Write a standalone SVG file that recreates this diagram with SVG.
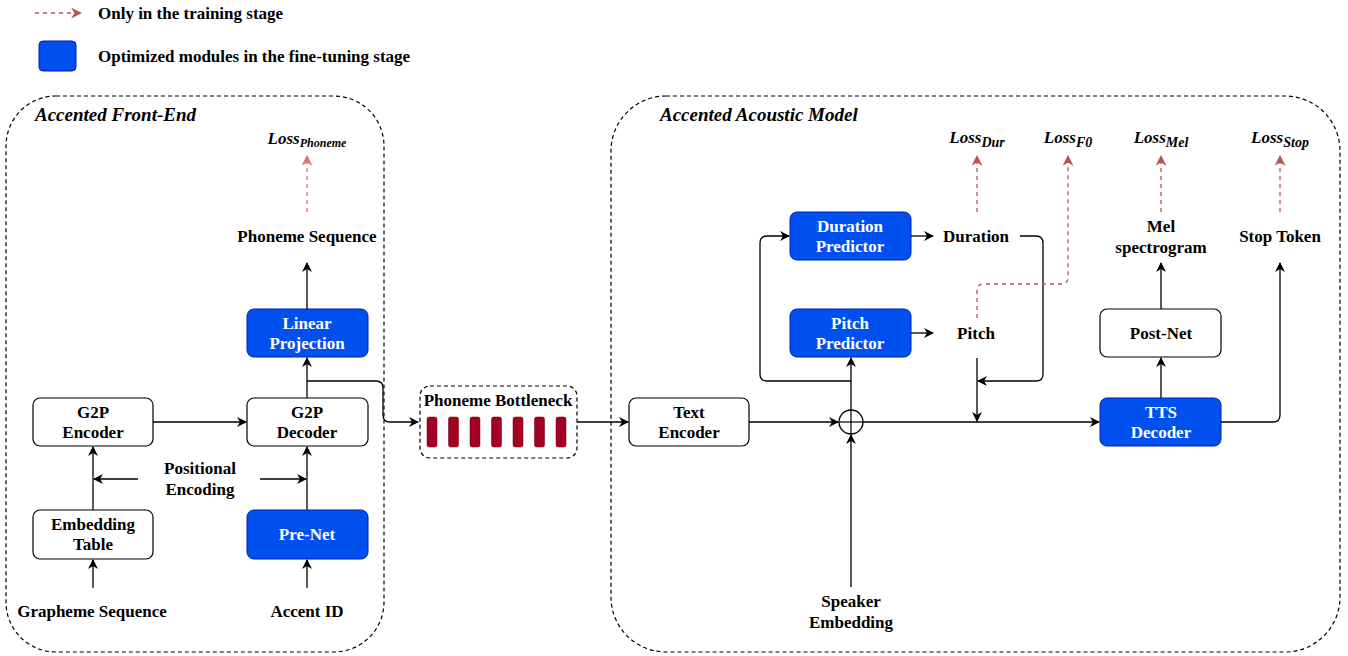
<svg xmlns="http://www.w3.org/2000/svg" width="1348" height="656" viewBox="0 0 1348 656">
<style>
text{font-weight:bold;fill:#000;text-anchor:middle;dominant-baseline:central}
.t15{font-size:17px}
.wt{fill:#fff}
.it{font-style:italic}
.box{fill:#fff;stroke:#000;stroke-width:1.2}
.blue{fill:#0050ef;stroke:#001dbc;stroke-width:1}
.cont{fill:none;stroke:#000;stroke-width:1.2;stroke-dasharray:4 3}
.ln{fill:none;stroke:#000;stroke-width:1.3}
.red{fill:none;stroke:#b85450;stroke-width:1.3;stroke-dasharray:4 4}
.red2{fill:none;stroke:#ea6b66;stroke-width:1.3;stroke-dasharray:4 4}
.bar{fill:#a20025;stroke:#6f0000;stroke-width:0.5}
</style>
<defs>
<marker id="ah" viewBox="0 0 10 10" refX="9" refY="5" markerWidth="10" markerHeight="10" markerUnits="userSpaceOnUse" orient="auto">
<path d="M0,0 L10,5 L0,10 L3,5 Z" fill="#000"/>
</marker>
<marker id="ahr" viewBox="0 0 10 10" refX="9" refY="5" markerWidth="11" markerHeight="11" markerUnits="userSpaceOnUse" orient="auto">
<path d="M0,0 L10,5 L0,10 L3,5 Z" fill="#b85450"/>
</marker>
<marker id="ahr2" viewBox="0 0 10 10" refX="9" refY="5" markerWidth="11" markerHeight="11" markerUnits="userSpaceOnUse" orient="auto">
<path d="M0,0 L10,5 L0,10 L3,5 Z" fill="#ea6b66"/>
</marker>
</defs>
<g font-family="'Liberation Serif', 'DejaVu Serif', serif">
<g id="legend">
<line x1="35" y1="13" x2="81" y2="13" class="red" marker-end="url(#ahr)"/>
<text x="98" y="13" class="t15" style="text-anchor:start">Only in the training stage</text>
<rect x="39" y="41" width="37" height="30" rx="4" class="blue"/>
<text x="98" y="56" class="t15" style="text-anchor:start">Optimized modules in the fine-tuning stage</text>
</g>

<g id="frontend">
<rect x="6" y="96" width="378" height="556" rx="50" class="cont"/>
<text x="35" y="114" class="it" style="font-size:19px;text-anchor:start">Accented Front-End</text>
</g>
<g id="acoustic">
<rect x="611" y="96" width="729" height="556" rx="55" class="cont"/>
<text x="660" y="114" class="it" style="font-size:19px;text-anchor:start">Accented Acoustic Model</text>
</g>

<g id="loss-phoneme"><text x="307" y="138" class="it" style="font-size:17px">Loss<tspan dy="5" style="font-size:12px">Phoneme</tspan></text></g>
<g id="loss-dur"><text x="977" y="137" class="it" style="font-size:17px">Loss<tspan dy="5" style="font-size:14px">Dur</tspan></text></g>
<g id="loss-f0"><text x="1068" y="137" class="it" style="font-size:17px">Loss<tspan dy="5" style="font-size:14px">F0</tspan></text></g>
<g id="loss-mel"><text x="1161" y="137" class="it" style="font-size:17px">Loss<tspan dy="5" style="font-size:14px">Mel</tspan></text></g>
<g id="loss-stop"><text x="1280" y="137" class="it" style="font-size:17px">Loss<tspan dy="5" style="font-size:14px">Stop</tspan></text></g>

<g id="phoneme-seq"><text x="307" y="236" class="t15">Phoneme Sequence</text></g>
<g id="linear-proj"><rect x="247" y="309" width="121" height="48" rx="7" class="blue"/><text x="307" y="323" class="t15 wt">Linear</text><text x="307" y="343" class="t15 wt">Projection</text></g>
<g id="g2p-encoder"><rect x="33" y="398" width="120" height="48" rx="7" class="box"/><text x="93" y="412" class="t15">G2P</text><text x="93" y="432" class="t15">Encoder</text></g>
<g id="g2p-decoder"><rect x="247" y="398" width="121" height="48" rx="7" class="box"/><text x="307" y="412" class="t15">G2P</text><text x="307" y="432" class="t15">Decoder</text></g>
<g id="pos-enc"><text x="200" y="468" class="t15">Positional</text><text x="200" y="489" class="t15">Encoding</text></g>
<g id="embedding"><rect x="33" y="510" width="120" height="49" rx="7" class="box"/><text x="93" y="524" class="t15">Embedding</text><text x="93" y="544" class="t15">Table</text></g>
<g id="prenet"><rect x="247" y="510" width="121" height="49" rx="7" class="blue"/><text x="307" y="534" class="t15 wt">Pre-Net</text></g>
<g id="grapheme"><text x="92" y="611" class="t15">Grapheme Sequence</text></g>
<g id="accent-id"><text x="307" y="611" class="t15">Accent ID</text></g>

<g id="bottleneck">
<rect x="420" y="386" width="157" height="72" rx="10" class="cont"/>
<text x="498" y="400" class="t15">Phoneme Bottleneck</text>
<rect x="427" y="417" width="10" height="30" rx="2" class="bar"/>
<rect x="448.5" y="417" width="10" height="30" rx="2" class="bar"/>
<rect x="470" y="417" width="10" height="30" rx="2" class="bar"/>
<rect x="491.5" y="417" width="10" height="30" rx="2" class="bar"/>
<rect x="513" y="417" width="10" height="30" rx="2" class="bar"/>
<rect x="534.5" y="417" width="10" height="30" rx="2" class="bar"/>
<rect x="556" y="417" width="10" height="30" rx="2" class="bar"/>
</g>

<g id="text-encoder"><rect x="629" y="398" width="120" height="48" rx="7" class="box"/><text x="689" y="412" class="t15">Text</text><text x="689" y="432" class="t15">Encoder</text></g>
<g id="adder"><circle cx="851" cy="422" r="12" fill="#fff" stroke="#000" stroke-width="1.3"/><line x1="839" y1="422" x2="863" y2="422" stroke="#000" stroke-width="1.2"/><line x1="851" y1="410" x2="851" y2="434" stroke="#000" stroke-width="1.2"/></g>
<g id="duration-pred"><rect x="790" y="212" width="121" height="48" rx="7" class="blue"/><text x="850" y="226" class="t15 wt">Duration</text><text x="850" y="246" class="t15 wt">Predictor</text></g>
<g id="pitch-pred"><rect x="790" y="309" width="121" height="48" rx="7" class="blue"/><text x="850" y="323" class="t15 wt">Pitch</text><text x="850" y="343" class="t15 wt">Predictor</text></g>
<g id="duration"><text x="976" y="236" class="t15">Duration</text></g>
<g id="pitch"><text x="976" y="333" class="t15">Pitch</text></g>
<g id="speaker"><text x="851" y="601" class="t15">Speaker</text><text x="851" y="622" class="t15">Embedding</text></g>
<g id="tts-decoder"><rect x="1100" y="398" width="121" height="48" rx="7" class="blue"/><text x="1161" y="412" class="t15 wt">TTS</text><text x="1161" y="432" class="t15 wt">Decoder</text></g>
<g id="postnet"><rect x="1100" y="309" width="121" height="48" rx="7" class="box"/><text x="1161" y="333" class="t15">Post-Net</text></g>
<g id="mel"><text x="1161" y="226" class="t15">Mel</text><text x="1161" y="247" class="t15">spectrogram</text></g>
<g id="stop-token"><text x="1280" y="236" class="t15">Stop Token</text></g>

<g id="connectors">
<line x1="93" y1="588" x2="93" y2="560" class="ln" marker-end="url(#ah)"/>
<line x1="307" y1="588" x2="307" y2="560" class="ln" marker-end="url(#ah)"/>
<line x1="93" y1="510" x2="93" y2="447" class="ln" marker-end="url(#ah)"/>
<line x1="307" y1="510" x2="307" y2="447" class="ln" marker-end="url(#ah)"/>
<line x1="138" y1="479" x2="94" y2="479" class="ln" marker-end="url(#ah)"/>
<line x1="260" y1="479" x2="306" y2="479" class="ln" marker-end="url(#ah)"/>
<line x1="153" y1="422" x2="246" y2="422" class="ln" marker-end="url(#ah)"/>
<line x1="307" y1="398" x2="307" y2="358" class="ln" marker-end="url(#ah)"/>
<line x1="307" y1="309" x2="307" y2="263" class="ln" marker-end="url(#ah)"/>
<line x1="307" y1="212" x2="307" y2="156" class="red2" marker-end="url(#ahr2)"/>
<path d="M307,381 H376 Q383,381 383,388 V415 Q383,422 390,422 H418" class="ln" marker-end="url(#ah)"/>
<line x1="577" y1="422" x2="628" y2="422" class="ln" marker-end="url(#ah)"/>
<line x1="749" y1="422" x2="838" y2="422" class="ln" marker-end="url(#ah)"/>
<line x1="851" y1="587" x2="851" y2="435" class="ln" marker-end="url(#ah)"/>
<line x1="851" y1="410" x2="851" y2="358" class="ln" marker-end="url(#ah)"/>
<path d="M851,381 H767 Q760,381 760,374 V243 Q760,236 767,236 H789" class="ln" marker-end="url(#ah)"/>
<line x1="911" y1="236" x2="933" y2="236" class="ln" marker-end="url(#ah)"/>
<line x1="911" y1="333" x2="933" y2="333" class="ln" marker-end="url(#ah)"/>
<path d="M1020,236 H1036 Q1043,236 1043,243 V374 Q1043,381 1036,381 H978" class="ln" marker-end="url(#ah)"/>
<line x1="977" y1="358" x2="977" y2="421" class="ln" marker-end="url(#ah)"/>
<line x1="863" y1="422" x2="1099" y2="422" class="ln" marker-end="url(#ah)"/>
<line x1="1161" y1="398" x2="1161" y2="358" class="ln" marker-end="url(#ah)"/>
<line x1="1161" y1="309" x2="1161" y2="263" class="ln" marker-end="url(#ah)"/>
<path d="M1221,422 H1273 Q1280,422 1280,415 V263" class="ln" marker-end="url(#ah)"/>
<line x1="977" y1="212" x2="977" y2="156" class="red" marker-end="url(#ahr)"/>
<path d="M977,318 V291 Q977,284 984,284 H1061 Q1068,284 1068,277 V156" class="red" marker-end="url(#ahr)"/>
<line x1="1161" y1="212" x2="1161" y2="156" class="red" marker-end="url(#ahr)"/>
<line x1="1280" y1="212" x2="1280" y2="156" class="red" marker-end="url(#ahr)"/>
</g>
</g>
</svg>
